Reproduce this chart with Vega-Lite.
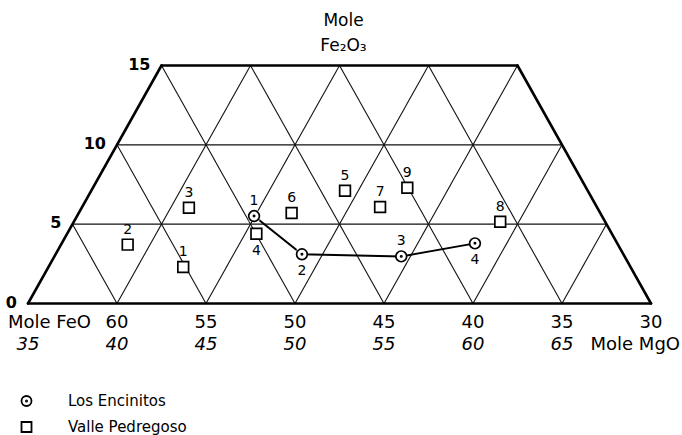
{
  "$schema": "https://vega.github.io/schema/vega-lite/v6.json",
  "width": 623,
  "height": 238,
  "autosize": {"type": "none"},
  "padding": {"left": 28, "top": 65.5, "right": 31, "bottom": 131.5},
  "background": "white",
  "config": {"font": "DejaVu Sans", "view": {"stroke": null}},
  "datasets": {
    "borders": [
      {"feo": 65, "fe2o3": 0, "feo2": 30, "fe2o32": 0},
      {"feo": 30, "fe2o3": 0, "feo2": 37.5, "fe2o32": 15},
      {"feo": 37.5, "fe2o3": 15, "feo2": 57.5, "fe2o32": 15},
      {"feo": 57.5, "fe2o3": 15, "feo2": 65, "fe2o32": 0}
    ],
    "grid": [
      {"feo": 62.5, "fe2o3": 5, "feo2": 32.5, "fe2o32": 5},
      {"feo": 60, "fe2o3": 10, "feo2": 35, "fe2o32": 10},
      {"feo": 60, "fe2o3": 0, "feo2": 52.5, "fe2o32": 15},
      {"feo": 55, "fe2o3": 0, "feo2": 47.5, "fe2o32": 15},
      {"feo": 50, "fe2o3": 0, "feo2": 42.5, "fe2o32": 15},
      {"feo": 45, "fe2o3": 0, "feo2": 37.5, "fe2o32": 15},
      {"feo": 40, "fe2o3": 0, "feo2": 35, "fe2o32": 10},
      {"feo": 35, "fe2o3": 0, "feo2": 32.5, "fe2o32": 5},
      {"feo": 60, "fe2o3": 0, "feo2": 62.5, "fe2o32": 5},
      {"feo": 55, "fe2o3": 0, "feo2": 60, "fe2o32": 10},
      {"feo": 50, "fe2o3": 0, "feo2": 57.5, "fe2o32": 15},
      {"feo": 45, "fe2o3": 0, "feo2": 52.5, "fe2o32": 15},
      {"feo": 40, "fe2o3": 0, "feo2": 47.5, "fe2o32": 15},
      {"feo": 35, "fe2o3": 0, "feo2": 42.5, "fe2o32": 15}
    ],
    "samples": [
      {"site": "Los Encinitos", "id": 1, "feo": 52.30, "fe2o3": 5.51},
      {"site": "Los Encinitos", "id": 2, "feo": 49.61, "fe2o3": 3.10},
      {"site": "Los Encinitos", "id": 3, "feo": 44.03, "fe2o3": 2.97},
      {"site": "Los Encinitos", "id": 4, "feo": 39.89, "fe2o3": 3.79},
      {"site": "Valle Pedregoso", "id": 1, "feo": 56.28, "fe2o3": 2.30},
      {"site": "Valle Pedregoso", "id": 2, "feo": 59.40, "fe2o3": 3.71},
      {"site": "Valle Pedregoso", "id": 3, "feo": 55.96, "fe2o3": 6.04},
      {"site": "Valle Pedregoso", "id": 4, "feo": 52.17, "fe2o3": 4.40},
      {"site": "Valle Pedregoso", "id": 5, "feo": 47.19, "fe2o3": 7.11},
      {"site": "Valle Pedregoso", "id": 6, "feo": 50.19, "fe2o3": 5.70},
      {"site": "Valle Pedregoso", "id": 7, "feo": 45.22, "fe2o3": 6.08},
      {"site": "Valle Pedregoso", "id": 8, "feo": 38.47, "fe2o3": 5.15},
      {"site": "Valle Pedregoso", "id": 9, "feo": 43.69, "fe2o3": 7.30}
    ],
    "fe2o3Ticks": [
      {"label": "0", "feo": 65, "fe2o3": 0},
      {"label": "5", "feo": 62.5, "fe2o3": 5},
      {"label": "10", "feo": 60, "fe2o3": 10},
      {"label": "15", "feo": 57.5, "fe2o3": 15}
    ],
    "feoTicks": [
      {"label": "60", "feo": 60, "fe2o3": 0},
      {"label": "55", "feo": 55, "fe2o3": 0},
      {"label": "50", "feo": 50, "fe2o3": 0},
      {"label": "45", "feo": 45, "fe2o3": 0},
      {"label": "40", "feo": 40, "fe2o3": 0},
      {"label": "35", "feo": 35, "fe2o3": 0},
      {"label": "30", "feo": 30, "fe2o3": 0}
    ],
    "mgoTicks": [
      {"label": "35", "feo": 65, "fe2o3": 0},
      {"label": "40", "feo": 60, "fe2o3": 0},
      {"label": "45", "feo": 55, "fe2o3": 0},
      {"label": "50", "feo": 50, "fe2o3": 0},
      {"label": "55", "feo": 45, "fe2o3": 0},
      {"label": "60", "feo": 40, "fe2o3": 0},
      {"label": "65", "feo": 35, "fe2o3": 0}
    ]
  },
  "encoding": {
    "x": {"field": "feo", "type": "quantitative", "scale": {"domain": [30, 65], "reverse": true, "nice": false, "zero": false}, "axis": null},
    "y": {"field": "fe2o3", "type": "quantitative", "scale": {"domain": [0, 15], "nice": false, "zero": false}, "axis": null}
  },
  "layer": [
    {
      "data": {"name": "grid"},
      "mark": {"type": "rule", "stroke": "#111", "strokeWidth": 1.1},
      "encoding": {"x2": {"field": "feo2"}, "y2": {"field": "fe2o32"}}
    },
    {
      "data": {"name": "borders"},
      "mark": {"type": "rule", "stroke": "#000", "strokeWidth": 2.6, "strokeCap": "round"},
      "encoding": {"x2": {"field": "feo2"}, "y2": {"field": "fe2o32"}}
    },
    {
      "data": {"name": "samples"},
      "transform": [{"filter": "datum.site == 'Los Encinitos'"}],
      "mark": {"type": "line", "stroke": "#000", "strokeWidth": 2},
      "encoding": {"order": {"field": "id", "type": "quantitative"}}
    },
    {
      "data": {"name": "samples"},
      "mark": {"type": "point", "shape": "square", "filled": true, "color": "white", "opacity": 1, "size": 110},
      "encoding": {}
    },
    {
      "data": {"name": "samples"},
      "mark": {"type": "point", "filled": false, "color": "#000", "strokeWidth": 1.7, "opacity": 1, "size": 115},
      "encoding": {
        "shape": {
          "field": "site", "type": "nominal",
          "scale": {"domain": ["Los Encinitos", "Valle Pedregoso"], "range": ["M-1,0A1,1,0,1,1,1,0A1,1,0,1,1,-1,0ZM-0.12,0A0.12,0.12,0,1,1,0.12,0A0.12,0.12,0,1,1,-0.12,0Z", "square"]},
          "legend": {
            "orient": "none", "legendX": -9, "legendY": 328, "title": null,
            "labelFontSize": 15, "labelFont": "DejaVu Sans", "labelColor": "#000",
            "symbolSize": 100, "symbolStrokeWidth": 1.8, "symbolStrokeColor": "#000",
            "labelOffset": 34, "rowPadding": 7
          }
        }
      }
    },
    {
      "data": {"name": "samples"},
      "transform": [{"filter": "!((datum.site == 'Los Encinitos' && (datum.id == 2 || datum.id == 4)) || (datum.site == 'Valle Pedregoso' && datum.id == 4))"}],
      "mark": {"type": "text", "fontSize": 14, "dy": -15, "color": "#000", "baseline": "middle", "align": "center"},
      "encoding": {"text": {"field": "id", "type": "nominal"}}
    },
    {
      "data": {"name": "samples"},
      "transform": [{"filter": "(datum.site == 'Los Encinitos' && (datum.id == 2 || datum.id == 4)) || (datum.site == 'Valle Pedregoso' && datum.id == 4)"}],
      "mark": {"type": "text", "fontSize": 14, "dy": 17, "color": "#000", "baseline": "middle", "align": "center"},
      "encoding": {"text": {"field": "id", "type": "nominal"}}
    },
    {
      "data": {"name": "fe2o3Ticks"},
      "mark": {"type": "text", "fontSize": 16, "fontWeight": "bold", "align": "right", "baseline": "middle", "dx": -11, "dy": -1, "color": "#000"},
      "encoding": {"text": {"field": "label", "type": "nominal"}}
    },
    {
      "data": {"name": "feoTicks"},
      "mark": {"type": "text", "fontSize": 18, "align": "center", "baseline": "middle", "dy": 19, "color": "#000"},
      "encoding": {"text": {"field": "label", "type": "nominal"}}
    },
    {
      "data": {"name": "mgoTicks"},
      "mark": {"type": "text", "fontSize": 18, "fontStyle": "italic", "align": "center", "baseline": "middle", "dy": 41, "color": "#000"},
      "encoding": {"text": {"field": "label", "type": "nominal"}}
    },
    {
      "data": {"values": [{"feo": 65, "fe2o3": 0}]},
      "mark": {"type": "text", "text": "Mole FeO", "fontSize": 18, "align": "left", "baseline": "middle", "dx": -20, "dy": 19, "color": "#000"}
    },
    {
      "data": {"values": [{"feo": 30, "fe2o3": 0}]},
      "mark": {"type": "text", "text": "Mole MgO", "fontSize": 18, "align": "right", "baseline": "middle", "dx": 29, "dy": 41, "color": "#000"}
    },
    {
      "data": {"values": [{"feo": 47.5, "fe2o3": 15}]},
      "mark": {"type": "text", "text": "Mole", "fontSize": 17, "align": "center", "baseline": "middle", "dx": 4, "dy": -45, "color": "#000"}
    },
    {
      "data": {"values": [{"feo": 47.5, "fe2o3": 15}]},
      "mark": {"type": "text", "text": "Fe₂O₃", "fontSize": 17, "align": "center", "baseline": "middle", "dx": 4, "dy": -20, "color": "#000"}
    }
  ]
}
